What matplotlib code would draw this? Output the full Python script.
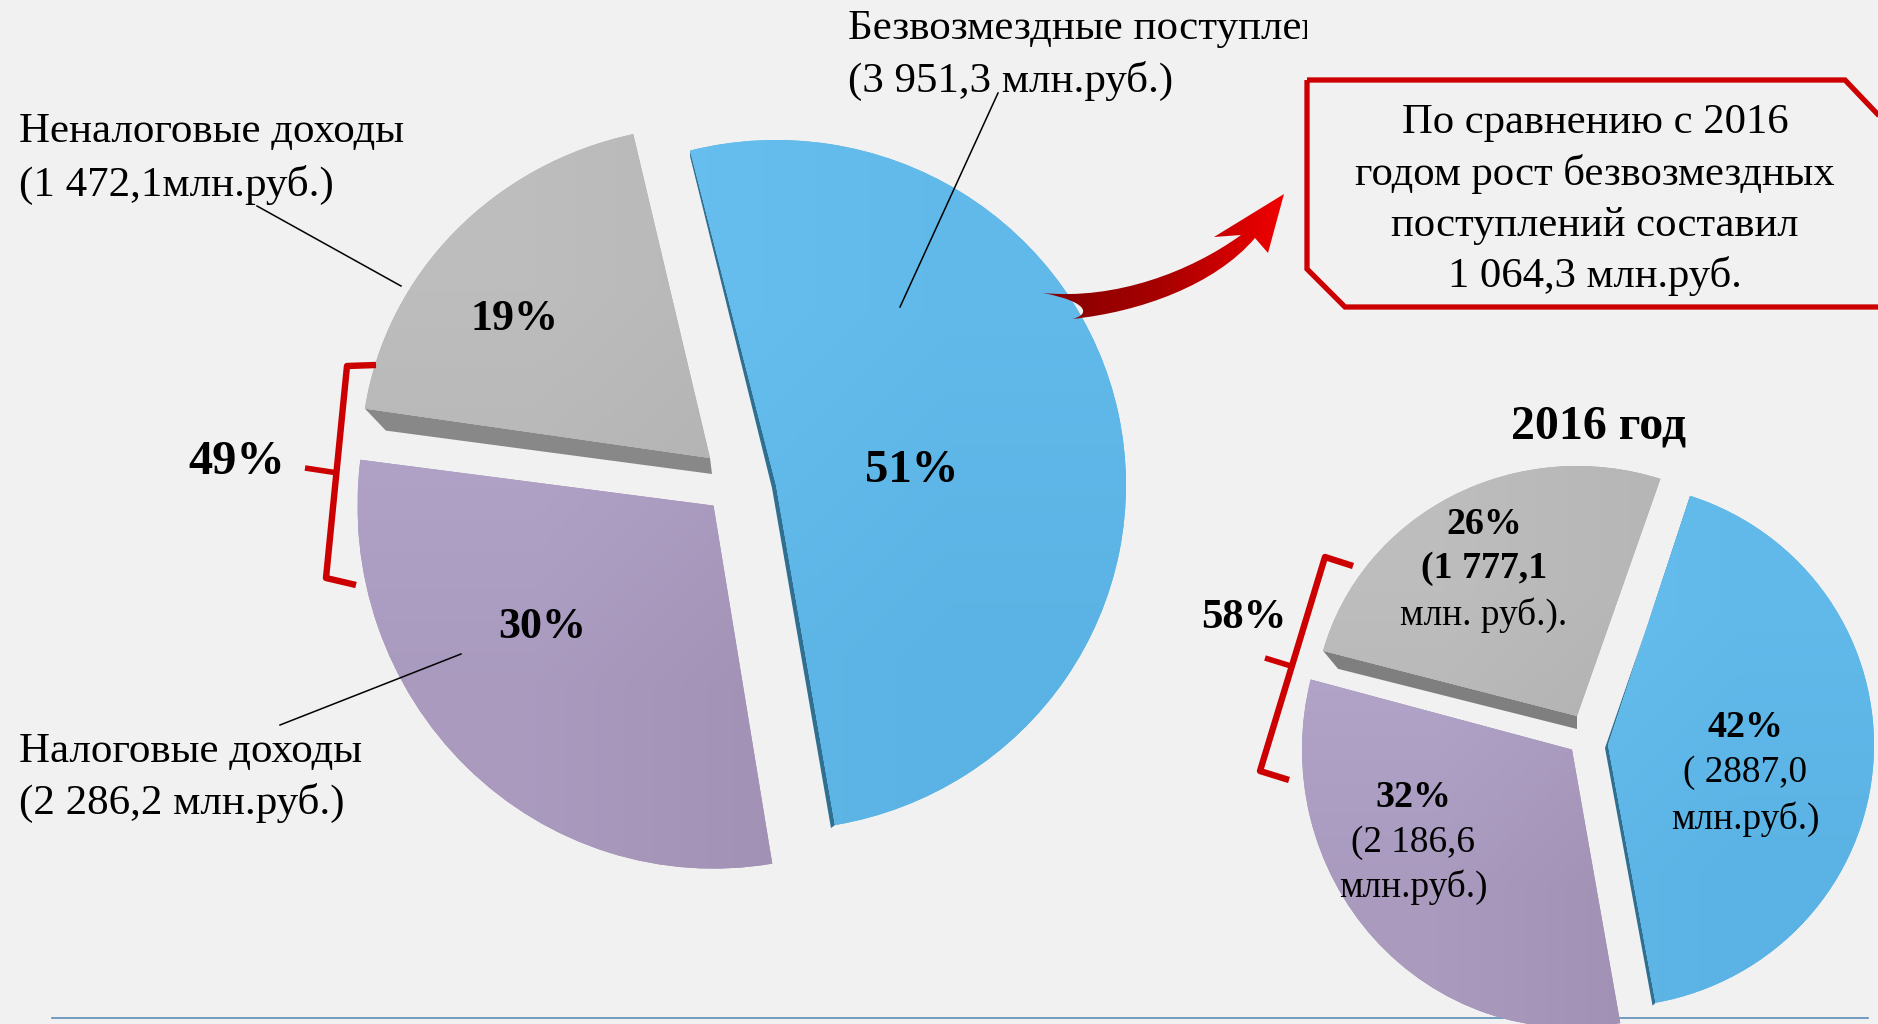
"""Budget revenue structure: big pie for the current year, small pie for 2016."""
import numpy as np
import matplotlib
matplotlib.use("Agg")
import matplotlib.pyplot as plt
from matplotlib.colors import LinearSegmentedColormap
from matplotlib.patches import PathPatch, Polygon, Rectangle
from matplotlib.path import Path
from matplotlib.transforms import Affine2D

plt.rcParams["font.family"] = ["Liberation Serif", "DejaVu Serif"]

W, H = 1878, 1024
BG = "#F1F1F1"
RED = "#CC0000"

# млн.руб.: безвозмездные, неналоговые, налоговые
values_main = [3951.3, 1472.1, 2286.2]
values_2016 = [2887.0, 1777.1, 2186.6]
pct_main = ["51%", "19%", "30%"]
pct_2016 = ["42%", "26%", "32%"]
total_main = "49%"
total_2016 = "58%"

FILLS = [("#68C0F0", "#5AB3E4"), ("#BDBDBD", "#ACACAC"), ("#B4A6CC", "#9E8EB1")]
GRADIENT = LinearSegmentedColormap.from_list("swoosh", ["#860000", "#A80000", "#F00000"])


def draw_pie(ax, values, start, geometry):
    """geometry: per slice (apex x, apex y, x radius, y radius, turn in degrees)."""
    wedges, _ = ax.pie(values, startangle=start, radius=1, center=(0, 0),
                       colors=[f[1] for f in FILLS], wedgeprops={"linewidth": 0})
    shapes = []
    for w, (px, py, rx, ry, turn), (c0, c1) in zip(wedges, geometry, FILLS):
        w.set_transform(Affine2D().rotate_deg(turn).scale(rx, -ry).translate(px, py) + ax.transData)
        w.set_zorder(3)
        rgb0 = np.array(matplotlib.colors.to_rgb(c0))
        rgb1 = np.array(matplotlib.colors.to_rgb(c1))
        grad = np.array([[rgb0, (rgb0 + rgb1) / 2], [(rgb0 + rgb1) / 2, rgb1]])
        im = ax.imshow(grad, extent=(px - rx, px + rx, py + ry, py - ry), aspect="auto",
                       interpolation="bilinear", origin="upper", zorder=3.1)
        im.set_clip_path(w)
        a1, a2 = np.radians(w.theta1 + turn), np.radians(w.theta2 + turn)
        shapes.append({
            "apex": np.array([px, py]),
            "first": np.array([px + rx * np.cos(a1), py - ry * np.sin(a1)]),
            "second": np.array([px + rx * np.cos(a2), py - ry * np.sin(a2)]),
        })
    return shapes


def side_faces(ax, shapes, grey_far, grey_near, blue_shift, grey_col, blue_col):
    blue, grey = shapes[0], shapes[1]
    ax.add_patch(Polygon([grey["second"], grey["apex"], grey["apex"] + grey_near,
                          grey["second"] + grey_far],
                         closed=True, fc=grey_col, ec="none", zorder=2.5))
    pts = [blue["second"], blue["apex"], blue["first"],
           blue["first"] + blue_shift, blue["apex"] + blue_shift,
           blue["second"] + (0, 6)]
    ax.add_patch(Polygon(pts, closed=True, fc=blue_col, ec="none", zorder=2.5))


def swoosh(ax):
    verts = [(1043, 293), (1115, 300), (1190, 272), (1241, 235),
             (1214, 237), (1284, 194), (1268, 253), (1255, 238),
             (1215, 285), (1140, 312), (1072, 319),
             (1090, 315), (1090, 302), (1043, 293)]
    codes = [Path.MOVETO, Path.CURVE4, Path.CURVE4, Path.CURVE4,
             Path.LINETO, Path.LINETO, Path.LINETO, Path.LINETO,
             Path.CURVE4, Path.CURVE4, Path.CURVE4,
             Path.CURVE4, Path.CURVE4, Path.CURVE4]
    patch = PathPatch(Path(verts, codes), fc="none", ec="none", zorder=5)
    ax.add_patch(patch)
    im = ax.imshow(np.linspace(0, 1, 64).reshape(1, -1), extent=(1043, 1284, 319, 194),
                   cmap=GRADIENT, aspect="auto", zorder=5)
    im.set_clip_path(patch)


def bracket(ax, pts, tick, lw):
    xs, ys = zip(*pts)
    ax.plot(xs, ys, color=RED, lw=lw, solid_joinstyle="round", solid_capstyle="butt", zorder=6)
    xs, ys = zip(*tick)
    ax.plot(xs, ys, color=RED, lw=lw - 0.6, solid_capstyle="butt", zorder=6)


def say(ax, x, y, s, size, bold=False, ha="center", **kw):
    return ax.text(x, y + 2.5, s, fontsize=size, ha=ha, va="center", color="black",
                   fontweight="bold" if bold else "normal", zorder=8, **kw)


fig = plt.figure(figsize=(W / 100, H / 100), dpi=100, facecolor=BG)
ax = fig.add_axes([0, 0, 1, 1])

ax.plot([52, 1868], [1018, 1018], color="#5B8DB8", lw=1.2, zorder=1)

main = draw_pie(ax, values_main, -80.3,
                [(776, 485, 350, 345, 0), (710, 458, 349, 332, -1.5), (713.5, 505.6, 356, 363, -0.2)])
side_faces(ax, main, (21, 22), (2, 16), (-4, 3), "#888888", "#2F6F91")
small = draw_pie(ax, values_2016, -79.7,
                 [(1608, 745, 266, 262, 0), (1577, 716, 263, 250, -0.5), (1572, 749.6, 270, 278, 0)])
side_faces(ax, small, (15, 18), (0, 13), (-3, 3), "#7F7F7F", "#2F6F91")

# leader lines
for (x0, y0), (x1, y1) in [((998, 93), (900, 307)), ((257, 206), (401, 286)),
                           ((280, 725), (461, 654))]:
    ax.plot([x0, x1], [y0, y1], color="black", lw=1.1, zorder=7)

swoosh(ax)

# note box runs off the right edge of the picture
ax.add_patch(Polygon([(1307, 80), (1845, 80), (1885, 122), (1885, 307), (1345, 307), (1307, 269)],
                     closed=True, fc="none", ec=RED, lw=3.8, joinstyle="miter", zorder=6))

bracket(ax, [(376, 365), (347, 366), (326, 578), (356, 585)], [(305, 468), (338, 473)], 4.6)
bracket(ax, [(1353, 566), (1325, 557), (1260, 771), (1289, 780)], [(1265, 658), (1291, 666)], 4.6)

# outside labels; the first one is cut off by the text box in the source
LBL = 31
t1 = say(ax, 848, 26, "Безвозмездные поступления", LBL, ha="left")
t1.set_clip_on(True)
t1.set_clip_path(Rectangle((0, 0), 1307, 200, transform=ax.transData))
say(ax, 848, 78, "(3 951,3 млн.руб.)", LBL, ha="left")
say(ax, 19, 129, "Неналоговые доходы", LBL, ha="left")
say(ax, 19, 182, "(1 472,1млн.руб.)", LBL, ha="left")
say(ax, 19, 749, "Налоговые доходы", LBL, ha="left")
say(ax, 19, 800, "(2 286,2 млн.руб.)", LBL, ha="left")

for i, line in enumerate(["По сравнению с 2016", "годом рост безвозмездных",
                          "поступлений составил", "1 064,3 млн.руб."]):
    say(ax, 1595, [120, 171, 223, 273][i], line, 30.7)

# percentages on the big pie
say(ax, 912, 468, pct_main[0], 33.7, bold=True)
say(ax, 514, 316, pct_main[1], 31.7, bold=True)
say(ax, 542, 625, pct_main[2], 31.7, bold=True)
say(ax, 237, 460, total_main, 34.8, bold=True)

# 2016 pie
say(ax, 1599, 424, "2016 год", 34.5, bold=True)
say(ax, 1244, 616, total_2016, 30.8, bold=True)
SM = 26.8
SB = 27.3
say(ax, 1745, 725, pct_2016[0], SB, bold=True)
say(ax, 1745, 770, "( 2887,0", SM)
say(ax, 1745, 817, "млн.руб.)", SM)
say(ax, 1484, 522, pct_2016[1], SB, bold=True)
say(ax, 1484, 566, "(1 777,1", SB, bold=True)
say(ax, 1484, 613, "млн. руб.).", SM)
say(ax, 1413, 795, pct_2016[2], SB, bold=True)
say(ax, 1413, 840, "(2 186,6", SM)
say(ax, 1413, 885, "млн.руб.)", SM)

ax.set_aspect("auto")
ax.set_xlim(0, W)
ax.set_ylim(H, 0)
ax.axis("off")
fig.savefig("out.png", dpi=100, facecolor=BG)
